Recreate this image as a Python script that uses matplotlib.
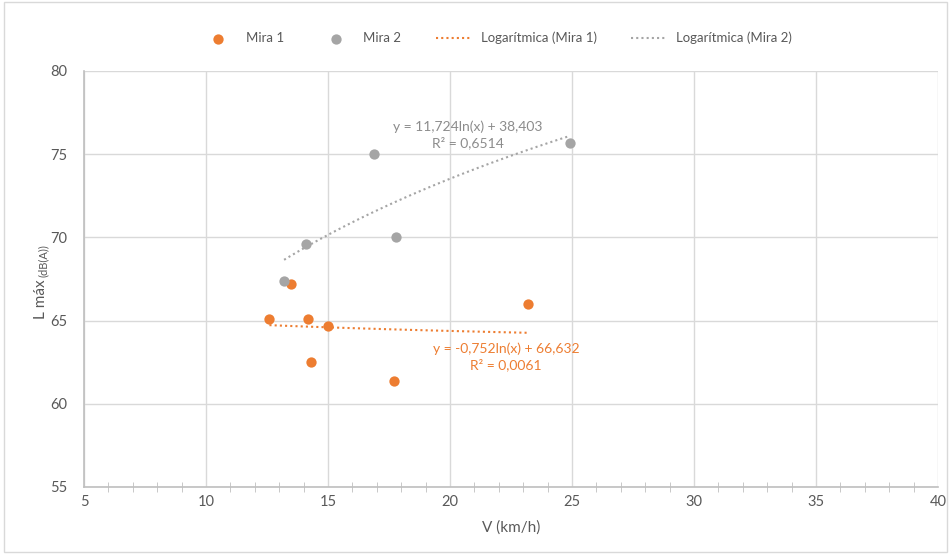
import matplotlib.pyplot as plt
import numpy as np
from matplotlib.ticker import MultipleLocator

plt.rcParams['font.family'] = ['Lato', 'DejaVu Sans']

# data
mira1_v = [12.6, 13.5, 14.2, 14.3, 15.0, 17.7, 23.2]
mira1_l = [65.1, 67.2, 65.1, 62.5, 64.7, 61.4, 66.0]
mira2_v = [13.2, 14.1, 16.9, 17.8, 24.9]
mira2_l = [67.4, 69.6, 75.0, 70.0, 75.7]

# trendline coefficients as printed on the chart: y = a*ln(x) + b
trend1 = (-0.752, 66.632)
trend2 = (11.724, 38.403)
eq1 = 'y = -0,752ln(x) + 66,632\nR² = 0,0061'
eq2 = 'y = 11,724ln(x) + 38,403\nR² = 0,6514'

orange = '#ED7D31'
grey = '#A5A5A5'
txt = '#595959'

fig = plt.figure(figsize=(9.51, 5.54), dpi=100)
ax = fig.add_axes([84 / 951, 67 / 554, 854 / 951, 416 / 554])

ax.scatter(mira1_v, mira1_l, s=55, color=orange, label='Mira 1', zorder=3, linewidths=0)
ax.scatter(mira2_v, mira2_l, s=55, color=grey, label='Mira 2', zorder=3, linewidths=0)

x1 = np.linspace(min(mira1_v), max(mira1_v), 100)
x2 = np.linspace(min(mira2_v), max(mira2_v), 100)
ax.plot(x1, trend1[0] * np.log(x1) + trend1[1], color=orange, linestyle=(0, (1, 1.5)),
        linewidth=1.5, label='Logarítmica (Mira 1)', zorder=2)
ax.plot(x2, trend2[0] * np.log(x2) + trend2[1], color=grey, linestyle=(0, (1, 1.5)),
        linewidth=1.5, label='Logarítmica (Mira 2)', zorder=2)

ax.text(20.74, 76.15, eq2, color='#8c8c8c', fontsize=10, ha='center', va='center',
        linespacing=1.3)
ax.text(22.3, 62.8, eq1, color=orange, fontsize=10, ha='center', va='center',
        linespacing=1.3)

ax.set_xlim(5, 40)
ax.set_ylim(55, 80)
ax.xaxis.set_major_locator(MultipleLocator(5))
ax.xaxis.set_minor_locator(MultipleLocator(1))
ax.yaxis.set_major_locator(MultipleLocator(5))
ax.grid(True, which='major', color='#d9d9d9', linewidth=1)
ax.set_axisbelow(True)
for s in ['top', 'right']:
    ax.spines[s].set_visible(False)
for s in ['left', 'bottom']:
    ax.spines[s].set_color('#bfbfbf')
    ax.spines[s].set_linewidth(1.2)
ax.tick_params(axis='x', which='both', direction='inout', colors='#bfbfbf',
               labelcolor=txt, labelsize=10.5, pad=6)
ax.tick_params(axis='x', which='major', length=0)
ax.tick_params(axis='x', which='minor', length=7)
ax.tick_params(axis='y', length=0, labelcolor=txt, labelsize=10.5, pad=12)

ax.set_xlabel('V (km/h)', color=txt, fontsize=11, labelpad=8)
# y label: "L máx" with a smaller "(dB(A))" above it
fig.text(41 / 951, 1 - 319 / 554, 'L máx', rotation=90, color=txt, fontsize=11,
         ha='center', va='bottom')
fig.text(43 / 951, 1 - 277 / 554, '(dB(A))', rotation=90, color=txt, fontsize=8,
         ha='center', va='bottom')

fig.legend(loc='center', bbox_to_anchor=(0.522, 1 - 38 / 554), ncol=4, frameon=False,
           fontsize=9.5, labelcolor=txt, handlelength=2.6, handletextpad=0.8,
           columnspacing=2.6)

fig.patches.append(plt.Rectangle((0.004, 0.004), 0.992, 0.992, transform=fig.transFigure,
                                 fill=False, edgecolor='#d9d9d9', linewidth=1))

plt.savefig('out.png', dpi=100)
